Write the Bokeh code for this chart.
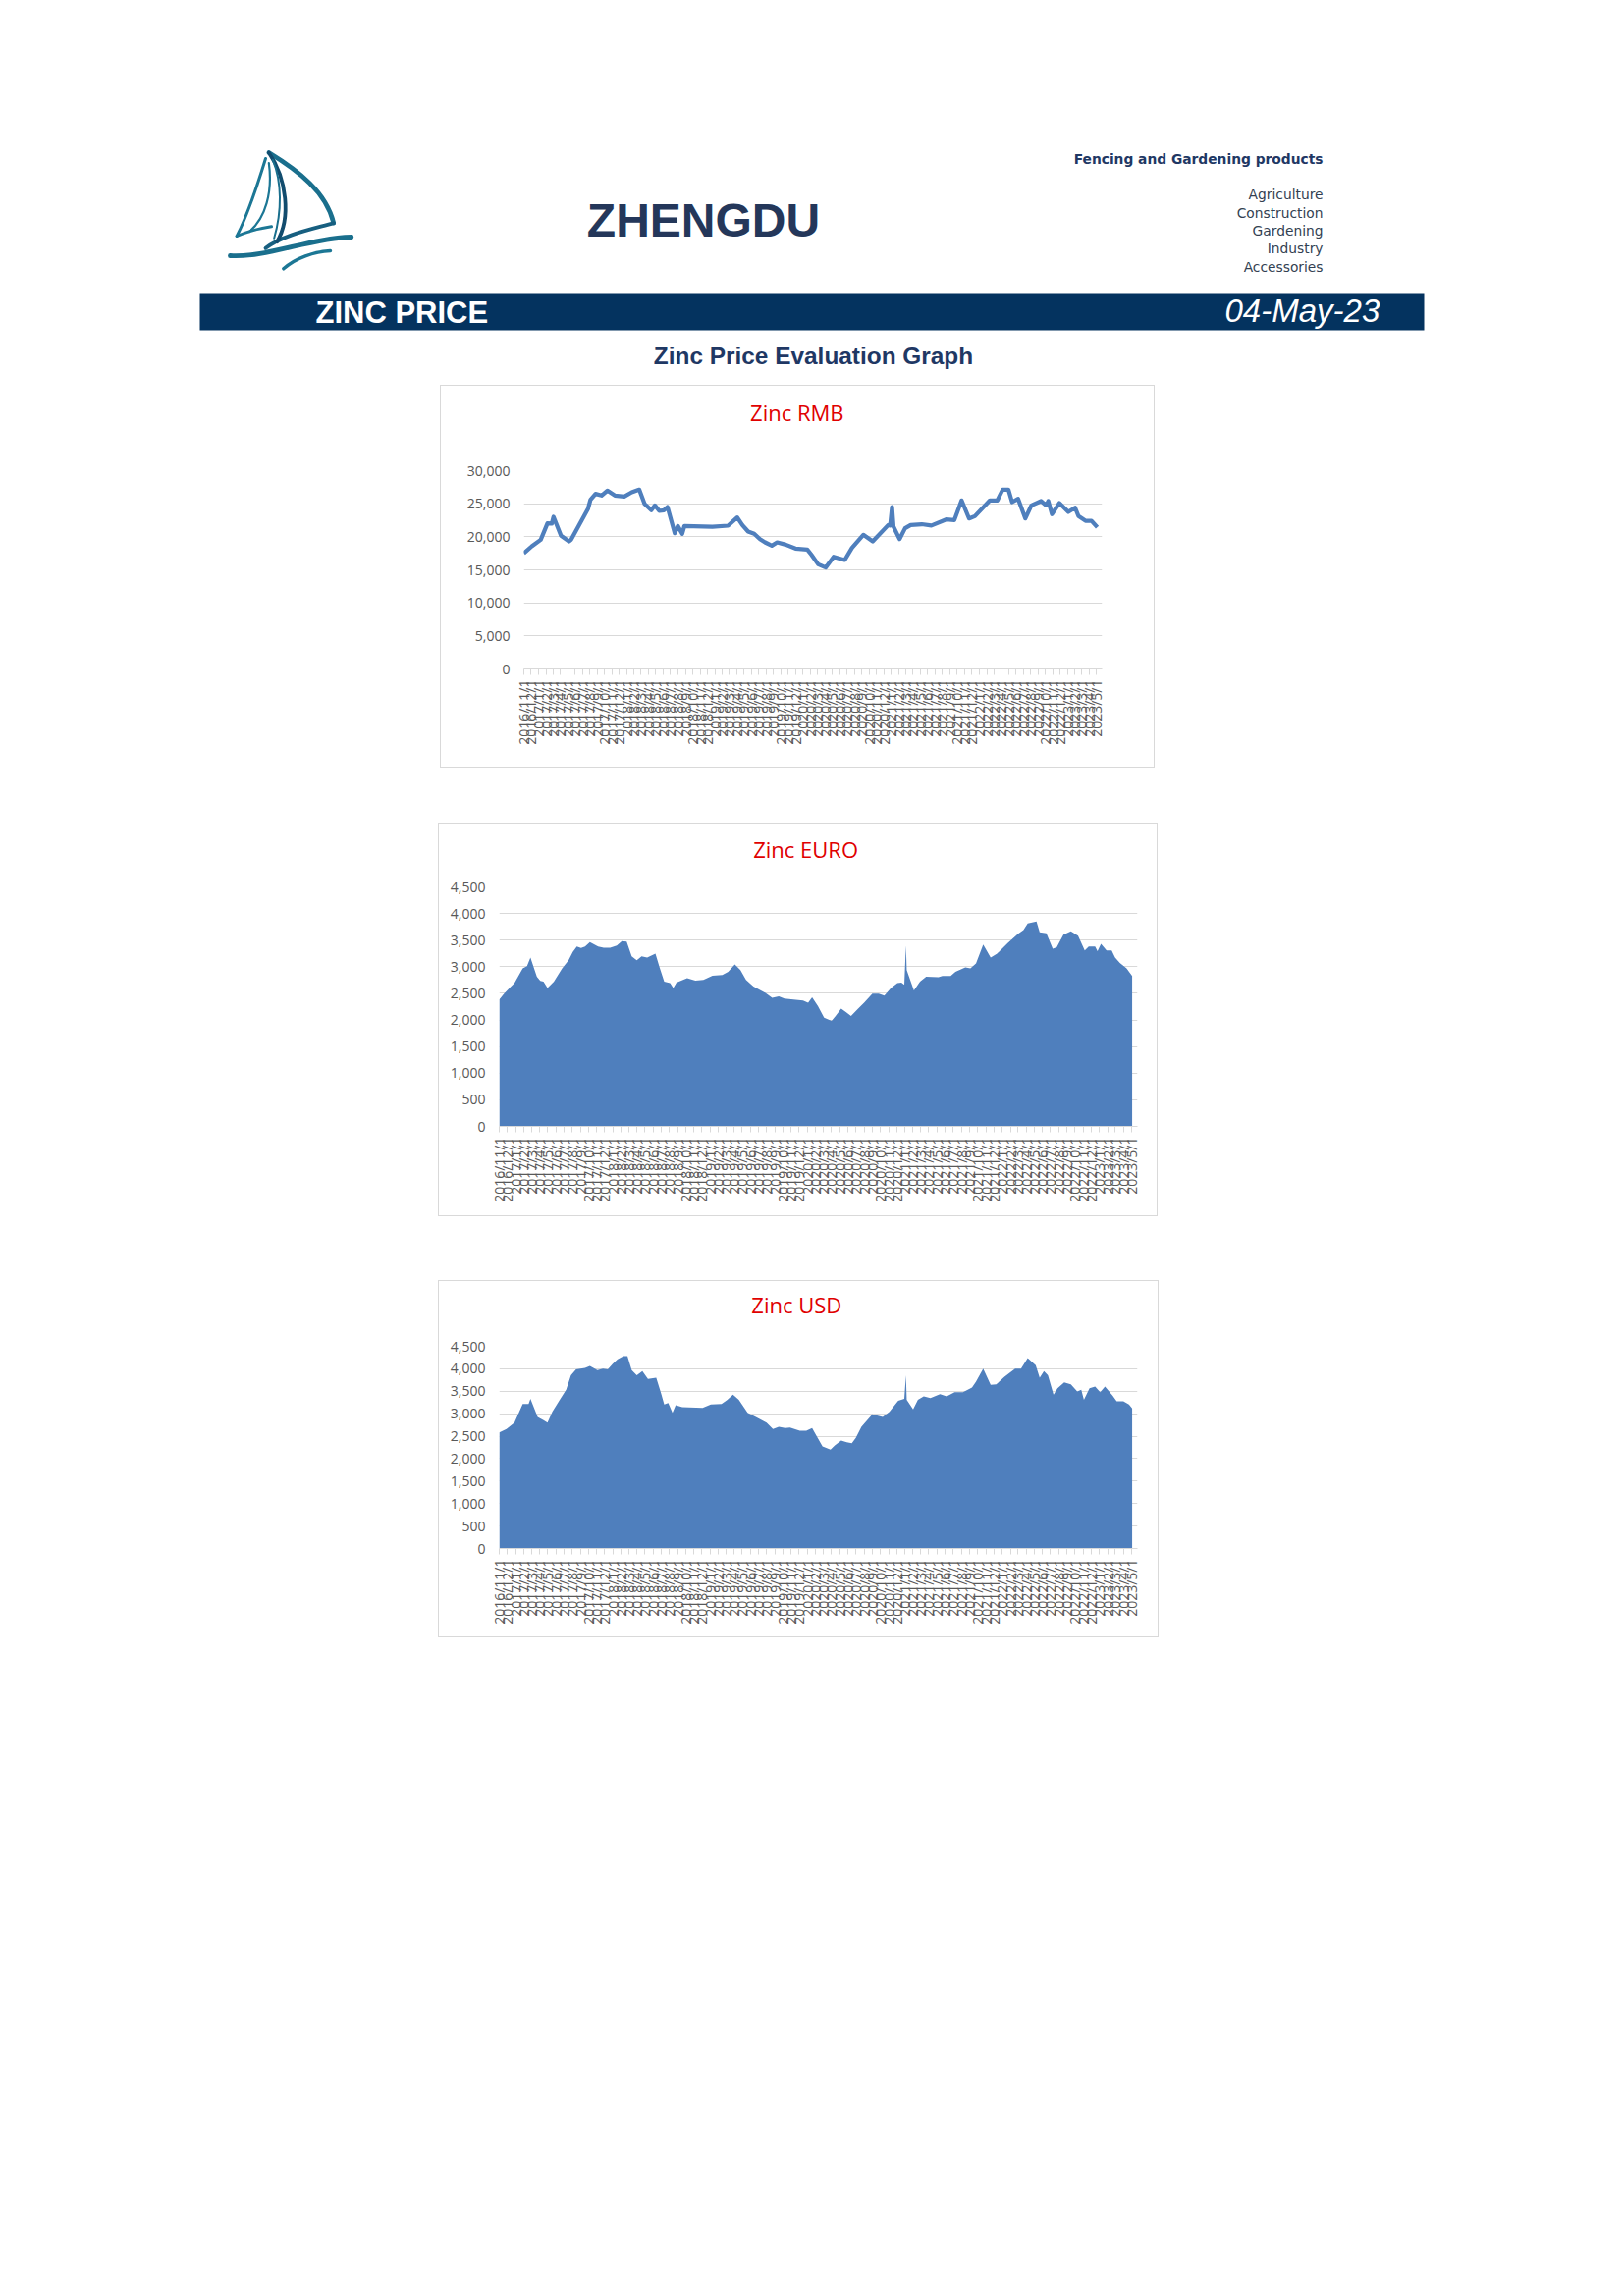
import pandas as pd
from datetime import datetime
from bokeh.plotting import figure
from bokeh.layouts import column, row
from bokeh.models import Range1d, FixedTicker, NumeralTickFormatter, Spacer, ColumnDataSource
from bokeh.embed import file_html
from bokeh.resources import INLINE
from bokeh.core.properties import value

# ---------------- data ----------------
rmb_dates = ["2016-11-01", "2016-12-04", "2017-01-10", "2017-02-07", "2017-02-25", "2017-03-04",
             "2017-04-04", "2017-05-07", "2017-05-16", "2017-07-25", "2017-08-04", "2017-08-25",
             "2017-09-19", "2017-10-13", "2017-11-13", "2017-12-22", "2018-01-22", "2018-02-22",
             "2018-03-16", "2018-04-13", "2018-04-28", "2018-05-16", "2018-06-04", "2018-06-19",
             "2018-07-19", "2018-08-01", "2018-08-19", "2018-08-28", "2018-12-22", "2019-02-25",
             "2019-04-04", "2019-04-25", "2019-05-19", "2019-06-13", "2019-07-07", "2019-07-28",
             "2019-08-25", "2019-09-16", "2019-10-22", "2019-12-01", "2020-01-19", "2020-02-04",
             "2020-03-04", "2020-04-04", "2020-05-07", "2020-06-22", "2020-07-22", "2020-09-07",
             "2020-10-16", "2020-12-19", "2020-12-27", "2021-01-04", "2021-01-10", "2021-02-04",
             "2021-02-27", "2021-03-22", "2021-05-07", "2021-06-16", "2021-08-16", "2021-09-19",
             "2021-10-19", "2021-11-19", "2021-12-13", "2022-02-13", "2022-03-16", "2022-04-07",
             "2022-05-01", "2022-05-16", "2022-06-10", "2022-07-10", "2022-08-04", "2022-09-13",
             "2022-10-04", "2022-10-13", "2022-10-28", "2022-11-28", "2023-01-04", "2023-02-01",
             "2023-02-15", "2023-03-16", "2023-04-10", "2023-05-04"]
rmb_values = [17500, 18560, 19550, 22030, 22000, 23020,
              20150, 19300, 19550, 24260, 25600, 26490,
              26240, 26980, 26240, 26090, 26730, 27130,
              25000, 24010, 24750, 23910, 24010, 24500,
              20540, 21630, 20450, 21630, 21530, 21680,
              22920, 21780, 20790, 20450, 19650, 19160,
              18660, 19160, 18810, 18220, 18070, 17330,
              15840, 15350, 16980, 16490, 18320, 20300,
              19310, 21780, 21700, 24500, 21530, 19650,
              21290, 21780, 21900, 21700, 22620, 22520,
              25500, 22770, 23120, 25500, 25500, 27130,
              27130, 25250, 25740, 22770, 24750, 25400,
              24750, 25400, 23420, 25100, 23760, 24400,
              23120, 22420, 22420, 21430]

euro_dates = ["2016-11-01", "2016-11-19", "2016-12-13", "2016-12-28", "2017-01-28", "2017-02-13",
              "2017-02-26", "2017-03-22", "2017-04-04", "2017-04-16", "2017-05-01", "2017-05-25",
              "2017-06-25", "2017-07-19", "2017-08-04", "2017-08-19", "2017-09-04", "2017-09-19",
              "2017-10-07", "2017-11-07", "2017-11-28", "2017-12-22", "2018-01-16", "2018-02-04",
              "2018-02-22", "2018-03-13", "2018-04-01", "2018-04-19", "2018-05-10", "2018-06-10",
              "2018-06-25", "2018-07-13", "2018-08-04", "2018-08-16", "2018-08-28", "2018-10-07",
              "2018-11-07", "2018-12-07", "2019-01-10", "2019-02-16", "2019-03-10", "2019-04-04",
              "2019-04-25", "2019-05-16", "2019-06-13", "2019-07-28", "2019-08-22", "2019-09-16",
              "2019-10-07", "2019-11-10", "2019-12-16", "2020-01-04", "2020-01-19", "2020-02-10",
              "2020-03-04", "2020-04-01", "2020-04-16", "2020-05-07", "2020-05-25", "2020-06-13",
              "2020-07-07", "2020-08-01", "2020-09-01", "2020-09-25", "2020-10-16", "2020-11-10",
              "2020-12-04", "2020-12-19", "2020-12-30", "2021-01-05", "2021-01-08", "2021-02-04",
              "2021-02-27", "2021-03-22", "2021-05-07", "2021-05-22", "2021-06-22", "2021-07-10",
              "2021-08-16", "2021-09-04", "2021-09-25", "2021-10-22", "2021-11-19", "2021-12-13",
              "2022-01-22", "2022-03-01", "2022-03-22", "2022-04-07", "2022-05-10", "2022-05-22",
              "2022-06-16", "2022-07-10", "2022-07-25", "2022-08-19", "2022-09-16", "2022-10-13",
              "2022-11-07", "2022-11-22", "2022-12-16", "2022-12-25", "2023-01-07", "2023-01-28",
              "2023-02-16", "2023-03-01", "2023-03-19", "2023-04-13", "2023-05-04"]
euro_values = [2383, 2494, 2617, 2691, 2968, 3011,
               3171, 2814, 2734, 2722, 2599, 2722,
               2968, 3122, 3276, 3381, 3350, 3381,
               3461, 3381, 3356, 3356, 3399, 3479,
               3473, 3196, 3122, 3196, 3171, 3245,
               2999, 2722, 2691, 2599, 2703, 2783,
               2740, 2753, 2833, 2845, 2907, 3042,
               2937, 2753, 2629, 2506, 2414, 2445,
               2402, 2383, 2365, 2322, 2426, 2260,
               2044, 1983, 2075, 2211, 2149, 2075,
               2198, 2322, 2494, 2494, 2457, 2599,
               2691, 2703, 2660, 3399, 2937, 2556,
               2722, 2814, 2802, 2827, 2827, 2907,
               2987, 2968, 3060, 3418, 3171, 3245,
               3442, 3615, 3689, 3812, 3849, 3646,
               3627, 3338, 3368, 3602, 3664, 3584,
               3307, 3381, 3381, 3294, 3430, 3307,
               3307, 3171, 3073, 2968, 2827]

usd_dates = ["2016-11-01", "2016-11-28", "2016-12-28", "2017-01-28", "2017-02-19", "2017-02-26",
             "2017-03-25", "2017-04-16", "2017-05-01", "2017-05-19", "2017-06-16", "2017-07-10",
             "2017-07-28", "2017-08-16", "2017-09-19", "2017-10-07", "2017-11-04", "2017-11-25",
             "2017-12-13", "2018-01-01", "2018-01-19", "2018-02-10", "2018-02-25", "2018-03-13",
             "2018-04-01", "2018-04-22", "2018-05-13", "2018-06-13", "2018-07-01", "2018-07-13",
             "2018-07-28", "2018-08-13", "2018-08-25", "2018-09-19", "2018-12-04", "2019-01-04",
             "2019-02-13", "2019-03-07", "2019-03-28", "2019-04-19", "2019-05-22", "2019-06-22",
             "2019-08-01", "2019-08-25", "2019-09-16", "2019-10-10", "2019-10-28", "2019-12-04",
             "2019-12-28", "2020-01-19", "2020-02-04", "2020-02-27", "2020-03-28", "2020-04-13",
             "2020-05-07", "2020-05-28", "2020-06-16", "2020-07-01", "2020-07-22", "2020-09-01",
             "2020-10-10", "2020-11-04", "2020-12-07", "2020-12-30", "2021-01-05", "2021-01-08",
             "2021-02-01", "2021-02-19", "2021-03-13", "2021-04-07", "2021-05-13", "2021-06-07",
             "2021-07-07", "2021-08-07", "2021-09-10", "2021-09-25", "2021-10-22", "2021-11-19",
             "2021-12-10", "2022-01-10", "2022-02-19", "2022-03-13", "2022-04-07", "2022-05-07",
             "2022-05-22", "2022-06-07", "2022-06-22", "2022-07-13", "2022-07-28", "2022-08-22",
             "2022-09-16", "2022-10-10", "2022-10-25", "2022-11-04", "2022-11-25", "2022-12-16",
             "2023-01-04", "2023-01-22", "2023-02-19", "2023-03-07", "2023-04-01", "2023-04-22",
             "2023-05-04"]
usd_values = [2584, 2657, 2803, 3218, 3218, 3334,
              2927, 2854, 2803, 3043, 3312, 3531,
              3858, 3989, 4019, 4062, 3968, 4004,
              3989, 4113, 4208, 4281, 4281, 3968,
              3858, 3946, 3771, 3800, 3458, 3203,
              3240, 3021, 3189, 3145, 3130, 3203,
              3218, 3312, 3422, 3312, 3021, 2927,
              2803, 2657, 2708, 2679, 2694, 2621,
              2621, 2679, 2512, 2271, 2199, 2293,
              2402, 2366, 2344, 2461, 2708, 2985,
              2927, 3043, 3290, 3334, 3858, 3312,
              3094, 3312, 3385, 3349, 3436, 3385,
              3480, 3480, 3582, 3713, 4004, 3640,
              3654, 3822, 4004, 4004, 4237, 4077,
              3800, 3946, 3858, 3422, 3567, 3698,
              3654, 3494, 3531, 3312, 3567, 3604,
              3480, 3604, 3407, 3276, 3276, 3203,
              3116]

rmb_ticks = [0, 5000, 10000, 15000, 20000, 25000, 30000]
eur_usd_ticks = [0, 500, 1000, 1500, 2000, 2500, 3000, 3500, 4000, 4500]

month_ticks = list(pd.date_range("2016-11-01", "2023-05-01", freq="MS"))
month_labels = [f"{d.year}/{d.month}/{d.day}" for d in month_ticks]

X_START = datetime(2016, 11, 1)
X_END = datetime(2023, 5, 24)

BLUE = "#4f7fbd"
GRID = "#d9d9d9"
LABEL = "#595959"
FONT = "Open Sans"
TH = 50  # height of the title strip inside each chart box


def make_chart(title, dates, values, kind, y_max, yticks, w, h, left, right, top, bottom,
               title_cx, title_cy):
    # title strip
    t = figure(width=w, height=TH, x_range=Range1d(0, w), y_range=Range1d(TH, 0),
               output_backend="svg", toolbar_location=None, min_border=0,
               x_axis_location=None, y_axis_location=None, outline_line_color=None)
    t.grid.visible = False
    t.text(x=[title_cx], y=[title_cy], text=[title], text_font=value(FONT),
           text_font_size=value("22px"), text_color="#e00000",
           text_align="center", text_baseline="middle")

    p = figure(width=w, height=h - TH, x_axis_type="datetime",
               x_range=Range1d(X_START, X_END), y_range=Range1d(0, y_max),
               output_backend="svg", toolbar_location=None,
               min_border_left=left, min_border_right=right,
               min_border_top=top - TH, min_border_bottom=bottom,
               outline_line_color=None, background_fill_color="white",
               border_fill_color="white")
    src = ColumnDataSource(dict(date=pd.to_datetime(dates), value=values))
    if kind == "line":
        p.line(x="date", y="value", source=src, line_color=BLUE, line_width=4.2,
               line_join="round")
    else:
        p.varea(x="date", y1=0, y2="value", source=src, fill_color=BLUE)

    # y axis
    p.yaxis.ticker = FixedTicker(ticks=yticks)
    p.yaxis.formatter = NumeralTickFormatter(format="0,0")
    p.yaxis.axis_line_color = None
    p.yaxis.major_tick_line_color = None
    p.yaxis.minor_tick_line_color = None
    p.yaxis.major_label_standoff = 8
    p.yaxis.major_label_text_font = FONT
    p.yaxis.major_label_text_font_size = "14px"
    p.yaxis.major_label_text_color = LABEL
    p.ygrid.ticker = FixedTicker(ticks=yticks)
    p.ygrid.grid_line_color = GRID
    p.xgrid.grid_line_color = None

    # x axis
    tick_ms = [tk.value // 10**6 for tk in month_ticks]
    p.xaxis.ticker = FixedTicker(ticks=tick_ms)
    p.xaxis.major_label_overrides = {ms: lab for ms, lab in zip(tick_ms, month_labels)}
    p.xaxis.major_label_orientation = 3.14159265 / 2
    p.xaxis.axis_line_color = GRID
    p.xaxis.major_tick_line_color = GRID
    p.xaxis.major_tick_in = 0
    p.xaxis.major_tick_out = 6
    p.xaxis.minor_tick_line_color = None
    p.xaxis.major_label_standoff = 5
    p.xaxis.major_label_text_font = FONT
    p.xaxis.major_label_text_font_size = "14px"
    p.xaxis.major_label_text_color = LABEL

    return column(t, p, spacing=0, styles={"border": "1px solid #d9d9d9"})


# RMB: box x 448-1174, y 392-780 ; frame x 532-1121, y 478-680
c1 = make_chart("Zinc RMB", rmb_dates, rmb_values, "line", 30000, rmb_ticks,
                726, 388, 84, 53, 86, 100, 343, 26)
# EURO: box x 446-1177, y 836-1235 ; frame x 507-1157, y 900-1144
c2 = make_chart("Zinc EURO", euro_dates, euro_values, "area", 4500, eur_usd_ticks,
                731, 399, 61, 20, 64, 91, 351, 25)
# USD: box x 446-1178, y 1300-1662 ; frame x 507-1157, y 1366-1572
c3 = make_chart("Zinc USD", usd_dates, usd_values, "area", 4500, eur_usd_ticks,
                732, 362, 61, 21, 66, 90, 341, 23)

# ---------------- header (page coordinates) ----------------
HW, HH = 1640, 392
hdr = figure(width=HW, height=HH, x_range=Range1d(0, HW), y_range=Range1d(HH, 0),
             output_backend="svg", toolbar_location=None, min_border=0,
             x_axis_location=None, y_axis_location=None, outline_line_color=None)
hdr.grid.visible = False


def lg(zx, zy):
    return 220 + zx / 3, 145 + zy / 3


logo_curves = [
    ((160, 30), (250, 85), (335, 150), (358, 245), 4.6, "#1a6f8d"),
    ((358, 245), (300, 262), (205, 280), (150, 322), 3.8, "#175f80"),
    ((160, 30), (215, 110), (228, 230), (185, 302), 3.8, "#124c6e"),
    ((172, 52), (200, 120), (200, 210), (176, 292), 2.0, "#1a6f8d"),
    ((150, 48), (125, 130), (95, 220), (62, 285), 3.0, "#1c7795"),
    ((160, 62), (172, 150), (150, 230), (100, 272), 2.2, "#1c7795"),
    ((62, 285), (95, 270), (130, 262), (168, 256), 3.0, "#1c7795"),
    ((42, 345), (150, 352), (290, 290), (412, 288), 4.8, "#1a6f8d"),
    ((205, 385), (240, 352), (300, 332), (348, 330), 3.4, "#1c7795"),
]
for a, c0, c1_, b, wdt, col in logo_curves:
    x0, y0 = lg(*a)
    cx0, cy0 = lg(*c0)
    cx1, cy1 = lg(*c1_)
    x1, y1 = lg(*b)
    hdr.bezier(x0=[x0], y0=[y0], x1=[x1], y1=[y1], cx0=[cx0], cy0=[cy0], cx1=[cx1], cy1=[cy1],
               line_width=wdt, line_color=col, line_cap="round")

hdr.text(x=[716], y=[224], text=["ZHENGDU"], text_font=value("Liberation Sans"),
         text_font_size=value("48px"), text_font_style="bold", text_color="#24375a",
         text_align="center", text_baseline="middle")

hdr.text(x=[1347], y=[161], text=["Fencing and Gardening products"],
         text_font=value("DejaVu Sans"), text_font_size=value("13.8px"), text_font_style="bold",
         text_color="#1f3864", text_align="right", text_baseline="middle")

sectors = ["Agriculture", "Construction", "Gardening", "Industry", "Accessories"]
sector_y = [197, 216, 234, 252, 271]
hdr.text(x=[1347] * len(sectors), y=sector_y, text=sectors,
         text_font=value("DejaVu Sans"), text_font_size=value("13.8px"),
         text_color="#333f52", text_align="right", text_baseline="middle")

hdr.quad(left=[203], right=[1450], top=[298], bottom=[336],
         fill_color="#04335f", line_color=None)
hdr.text(x=[321], y=[318], text=["ZINC PRICE"], text_font=value("Liberation Sans"),
         text_font_size=value("31px"), text_font_style="bold", text_color="white",
         text_align="left", text_baseline="middle")
hdr.text(x=[1247], y=[316], text=["04-May-23"], text_font=value("Liberation Sans"),
         text_font_size=value("33px"), text_font_style="italic", text_color="white",
         text_align="left", text_baseline="middle")
hdr.text(x=[828], y=[362], text=["Zinc Price Evaluation Graph"],
         text_font=value("Liberation Sans"), text_font_size=value("24.4px"),
         text_font_style="bold", text_color="#1f3864", text_align="center",
         text_baseline="middle")

page = column(
    hdr,
    row(Spacer(width=448, height=388), c1),
    Spacer(width=10, height=56),
    row(Spacer(width=446, height=399), c2),
    Spacer(width=10, height=65),
    row(Spacer(width=446, height=362), c3),
)

open("out.html", "w").write(file_html(page, INLINE))
